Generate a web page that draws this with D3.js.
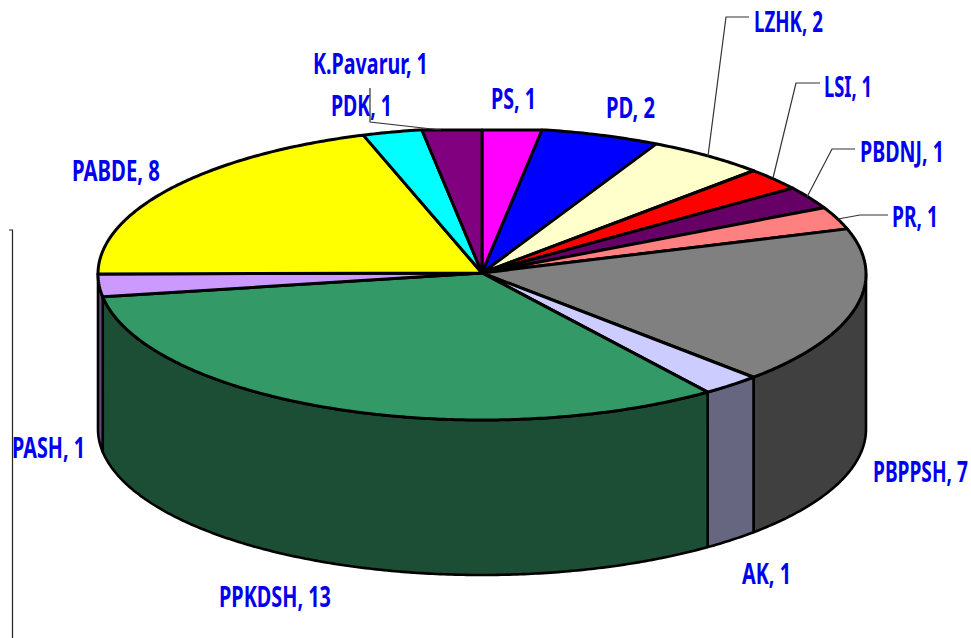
<!DOCTYPE html>
<html>
<head>
<meta charset="utf-8">
<script src="https://cdn.jsdelivr.net/npm/d3@7/dist/d3.min.js"></script>
<style>
html,body{margin:0;padding:0;background:#fff;overflow:hidden}
svg{display:block}
text{font-family:"Noto Sans",sans-serif;font-weight:700;fill:#0000EE;font-size:28px}
</style>
</head>
<body>
<svg id="chart" width="971" height="638"></svg>
<script>
const categories = ["PS","PD","LZHK","LSI","PBDNJ","PR","PBPPSH","AK","PPKDSH","PASH","PABDE","PDK","K.Pavarur"];
const values = [1,2,2,1,1,1,7,1,13,1,8,1,1];
const topColors = ["#FF00FF","#0000FF","#FFFFCC","#FF0000","#660066","#FF8080","#808080","#CCCCFF","#339966","#CC99FF","#FFFF00","#00FFFF","#800080"];
const sideColors = ["#800080","#000080","#808066","#800000","#330033","#804040","#404040","#666680","#1C4D35","#664C80","#808000","#008080","#400040"];

const labelX = [491,606,754,824,860,892,873,742,219,12,72,331,313];
const labelEnd = [536,655,823,872,944,938,968,791,331,85,160,392,428];
const labelBase = [109,118,32,97,162,227,482,584,607,458,181,116,74];

const leaderK = [[370,88],[370,122],[441,130]];
const leaderLZHK = [[749,17],[726,17],[708,156]];
const leaderLSI = [[820,83],[796,83],[773,178]];
const leaderPBDNJ = [[855,149],[832,149],[807,197]];
const leaderPR = [[888,215],[860,215],[838,219]];
const frameLine = [[9,230],[12.5,230],[12.5,638]];

const svg = d3.select("#chart");
const x = d3.scaleLinear().domain([-1,1]).range([98,866]);
const y = d3.scaleLinear().domain([-1,1]).range([128,420]);
const depth = 155, flatTop = 130;

const pie = d3.pie().sort(null).value(d => d)(values);
const px = a => x(Math.sin(a));
const py = a => Math.max(y(-Math.cos(a)), flatTop);
const arcAngles = (a0, a1) => {
  const n = Math.max(2, Math.ceil((a1 - a0) / 0.01));
  return d3.range(n + 1).map(i => a0 + (a1 - a0) * i / n);
};
const line = d3.line();

// side walls (front half only)
pie.forEach((p, i) => {
  const a0 = Math.max(p.startAngle, Math.PI / 2);
  const a1 = Math.min(p.endAngle, 3 * Math.PI / 2);
  if (a1 <= a0) return;
  const A = arcAngles(a0, a1);
  const pts = A.map(a => [px(a), py(a)]).concat(A.slice().reverse().map(a => [px(a), py(a) + depth]));
  svg.append("path").attr("d", line(pts) + "Z")
    .attr("fill", sideColors[i]).attr("stroke", "#000").attr("stroke-width", 2.6).attr("stroke-linejoin", "round");
});

// top surface
const cx = x(0), cy = y(0) - 1;
pie.forEach((p, i) => {
  const pts = [[cx, cy]].concat(arcAngles(p.startAngle, p.endAngle).map(a => [px(a), py(a)]));
  svg.append("path").attr("d", line(pts) + "Z")
    .attr("fill", topColors[i]).attr("stroke", "#000").attr("stroke-width", 3).attr("stroke-linejoin", "round");
});

// labels: squeezed horizontally to the reference's narrow lettering
categories.forEach((c, i) => {
  const t = svg.append("text").text(`${c}, ${values[i]}`);
  const sx = (labelEnd[i] - labelX[i]) / t.node().getComputedTextLength();
  t.attr("transform", `translate(${labelX[i]},${labelBase[i]}) scale(${sx},1)`);
});

// leader lines
[leaderK, leaderLZHK, leaderLSI, leaderPBDNJ, leaderPR].forEach(l => {
  svg.append("path").attr("d", line(l)).attr("fill", "none").attr("stroke", "#333").attr("stroke-width", 1.2);
});
svg.append("path").attr("d", line(frameLine)).attr("fill", "none").attr("stroke", "#222").attr("stroke-width", 1.2);
</script>
</body>
</html>
